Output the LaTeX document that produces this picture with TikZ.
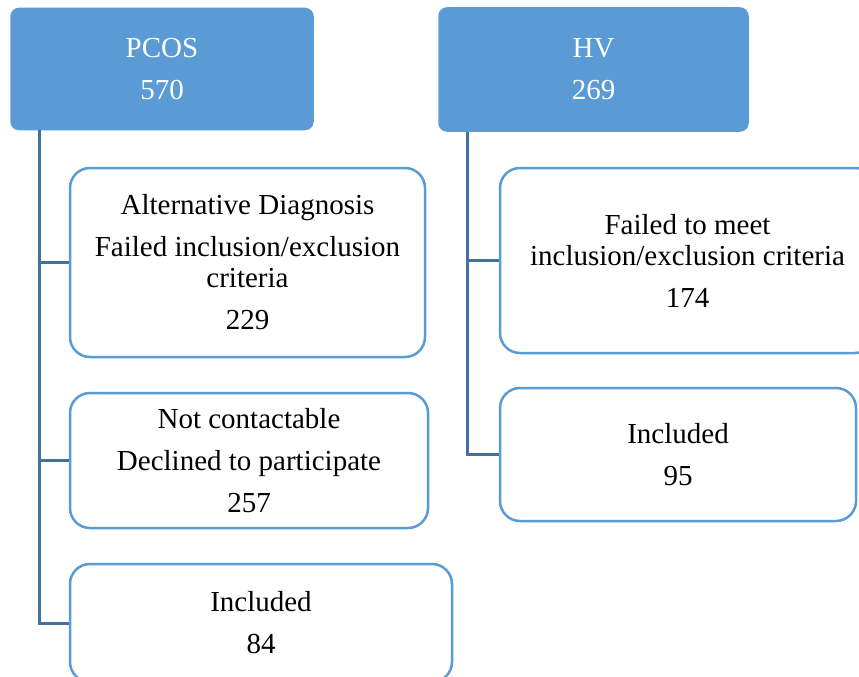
\documentclass[tikz,border=0pt]{standalone}
\usepackage{fontspec}
\newfontfamily\diagfont{Liberation Serif}
\usepackage{tikz}
\definecolor{boxblue}{HTML}{5B9BD5}
\definecolor{linkblue}{HTML}{41719C}
\tikzset{
  headbox/.style={draw=boxblue, fill=boxblue, line width=1.5pt, rounded corners=8pt, rectangle, text=white, align=center, font=\diagfont\fontsize{29}{31}\selectfont},
  itembox/.style={draw=boxblue, fill=white, line width=2.5pt, rounded corners=20pt, rectangle, text=black, align=center, font=\diagfont\fontsize{29}{31}\selectfont},
  branch/.style={draw=linkblue, line width=3pt}
}
\begin{document}
\begin{tikzpicture}[x=1pt, y=-1pt]
  \useasboundingbox (0,0) rectangle (859,677);
  \clip (0,0) rectangle (859,677);

  % PCOS side
  \node[headbox, minimum width=302pt, minimum height=121pt] (pcos) at (162,69) {PCOS\\[11pt]570};
  \node[itembox, minimum width=355pt, minimum height=189pt] (altdiag) at (247.5,262.5)
    {Alternative Diagnosis\\[11pt]Failed inclusion/exclusion\\criteria\\[11pt]229};
  \node[itembox, minimum width=358pt, minimum height=135pt] (notcont) at (249,460.5)
    {Not contactable\\[11pt]Declined to participate\\[11pt]257};
  \node[itembox, minimum width=382pt, minimum height=118pt] (pcosinc) at (261,623)
    {Included\\[11pt]84};

  % HV side
  \node[headbox, minimum width=309pt, minimum height=123pt] (hv) at (593.5,69.5) {HV\\[11pt]269};
  \node[itembox, minimum width=375pt, minimum height=185pt] (hvfail) at (687.5,260.5)
    {Failed to meet\\inclusion/exclusion criteria\\[11pt]174};
  \node[itembox, minimum width=356pt, minimum height=133pt] (hvinc) at (678,454.5)
    {Included\\[11pt]95};

  \draw[branch] ([xshift=29pt]pcos.south west) |- (altdiag.west);
  \draw[branch] ([xshift=29pt]pcos.south west) |- (notcont.west);
  \draw[branch] ([xshift=29pt]pcos.south west) |- (pcosinc.west);
  \draw[branch] ([xshift=29pt]hv.south west) |- (hvfail.west);
  \draw[branch] ([xshift=29pt]hv.south west) |- (hvinc.west);
\end{tikzpicture}
\end{document}
